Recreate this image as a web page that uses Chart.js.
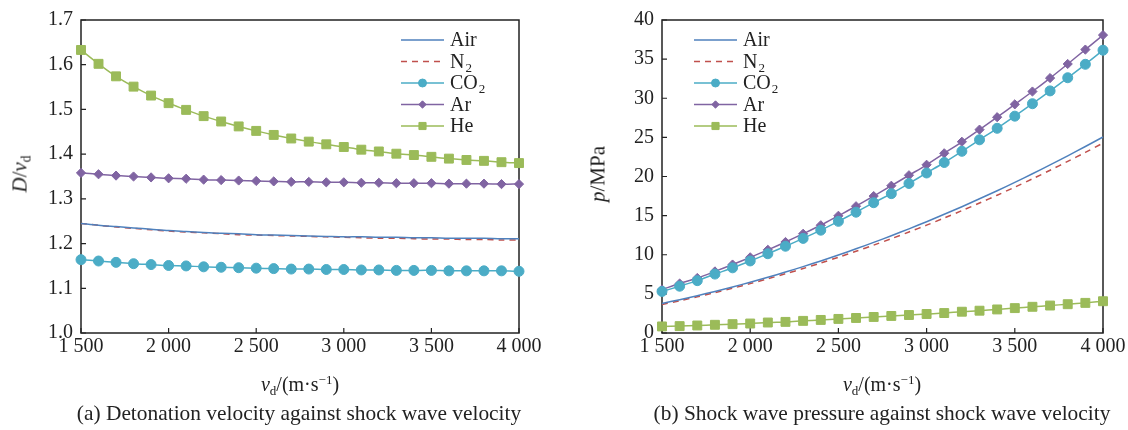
<!DOCTYPE html>
<html>
<head>
<meta charset="utf-8">
<script src="https://cdn.jsdelivr.net/npm/chart.js@4.4.0/dist/chart.umd.min.js"></script>
<style>
  body { margin: 0; background: #fff; font-family: "Liberation Serif", "Times New Roman", serif; color: #222; }
  #wrap { position: relative; width: 1128px; height: 430px; overflow: hidden; }
  .box { position: absolute; top: 0; height: 430px; }
  .lbl { position: absolute; white-space: nowrap; font-size: 20px; line-height: 1; transform: translate(-50%, -50%); }
  .rot { transform: translate(-50%, -50%) rotate(-90deg); font-size: 21px; }
  .cap { font-size: 21.4px; }
  sub, sup { font-size: 0.65em; line-height: 0; }
  sub { vertical-align: -0.3em; }
  sup { vertical-align: 0.55em; }
</style>
</head>
<body>
<div id="wrap">
  <div class="box" style="left:0;width:560px"><canvas id="plotA"></canvas></div>
  <div class="box" style="left:560px;width:568px"><canvas id="plotB"></canvas></div>

  <div class="lbl rot" style="left:20px;top:174px"><i>D</i>/<i>v</i><sub>d</sub></div>
  <div class="lbl rot" style="left:598px;top:174px"><i>p</i>/MPa</div>
  <div class="lbl" style="left:300px;top:384px"><i>v</i><sub>d</sub>/(m·s<sup>−1</sup>)</div>
  <div class="lbl" style="left:882px;top:384px"><i>v</i><sub>d</sub>/(m·s<sup>−1</sup>)</div>
  <div class="lbl cap" style="left:299px;top:414px">(a) Detonation velocity against shock wave velocity</div>
  <div class="lbl cap" style="left:882px;top:414px">(b) Shock wave pressure against shock wave velocity</div>
</div>

<script>
// shock wave velocity, m/s
const vd = [1500, 1600, 1700, 1800, 1900, 2000, 2100, 2200, 2300, 2400, 2500, 2600, 2700,
            2800, 2900, 3000, 3100, 3200, 3300, 3400, 3500, 3600, 3700, 3800, 3900, 4000]

const gasNames = ['Air', 'N2', 'CO2', 'Ar', 'He']
const xTickLabels = ['1 500', '2 000', '2 500', '3 000', '3 500', '4 000']
const yTickLabelsA = ['1.0', '1.1', '1.2', '1.3', '1.4', '1.5', '1.6', '1.7']
const yTickLabelsB = ['0', '5', '10', '15', '20', '25', '30', '35', '40']

// (a) D / vd
const airD = [1.245, 1.241, 1.238, 1.235, 1.232, 1.229, 1.227, 1.225, 1.223, 1.222, 1.220, 1.219, 1.218,
              1.217, 1.216, 1.215, 1.215, 1.214, 1.214, 1.213, 1.213, 1.212, 1.212, 1.212, 1.211, 1.211]
const n2D = [1.245, 1.241, 1.237, 1.234, 1.231, 1.228, 1.226, 1.224, 1.222, 1.220, 1.219, 1.218, 1.217,
             1.216, 1.215, 1.214, 1.213, 1.212, 1.212, 1.211, 1.210, 1.210, 1.209, 1.209, 1.208, 1.208]
const co2D = [1.164, 1.161, 1.158, 1.155, 1.153, 1.151, 1.150, 1.148, 1.147, 1.146, 1.145, 1.144, 1.143,
              1.143, 1.142, 1.142, 1.141, 1.141, 1.140, 1.140, 1.140, 1.139, 1.139, 1.139, 1.139, 1.138]
const arD = [1.358, 1.355, 1.352, 1.350, 1.348, 1.346, 1.345, 1.343, 1.342, 1.341, 1.340, 1.339, 1.338,
             1.338, 1.337, 1.337, 1.336, 1.336, 1.335, 1.335, 1.335, 1.334, 1.334, 1.334, 1.333, 1.333]
const heD = [1.633, 1.602, 1.574, 1.551, 1.531, 1.514, 1.499, 1.485, 1.473, 1.462, 1.452, 1.443, 1.435,
             1.428, 1.422, 1.416, 1.410, 1.406, 1.401, 1.398, 1.394, 1.390, 1.387, 1.385, 1.382, 1.380]

// (b) p, MPa
const airP = [3.78, 4.26, 4.77, 5.31, 5.88, 6.49, 7.12, 7.79, 8.48, 9.21, 9.97, 10.76, 11.58,
              12.43, 13.31, 14.22, 15.17, 16.14, 17.15, 18.18, 19.25, 20.35, 21.48, 22.64, 23.83, 25.05]
const n2P = [3.64, 4.12, 4.63, 5.16, 5.72, 6.31, 6.93, 7.57, 8.24, 8.94, 9.68, 10.44, 11.23,
             12.05, 12.91, 13.78, 14.70, 15.64, 16.61, 17.61, 18.64, 19.70, 20.80, 21.93, 23.08, 24.27]
const co2P = [5.31, 5.98, 6.69, 7.53, 8.33, 9.21, 10.13, 11.09, 12.09, 13.14, 14.27, 15.44, 16.65,
              17.81, 19.11, 20.45, 21.79, 23.22, 24.69, 26.16, 27.71, 29.30, 30.94, 32.62, 34.34, 36.14]
const arP = [5.56, 6.32, 7.03, 7.87, 8.75, 9.67, 10.63, 11.63, 12.68, 13.77, 14.98, 16.20, 17.50,
             18.82, 20.16, 21.50, 22.97, 24.44, 25.99, 27.58, 29.22, 30.86, 32.58, 34.38, 36.22, 38.07]
const heP = [0.84, 0.88, 0.96, 1.05, 1.13, 1.21, 1.34, 1.42, 1.55, 1.67, 1.80, 1.92, 2.05,
             2.18, 2.30, 2.43, 2.55, 2.72, 2.85, 3.01, 3.18, 3.35, 3.51, 3.68, 3.85, 4.06]

const FONT = '"Liberation Serif", "Times New Roman", serif'
const INK = '#222'

const styles = [
    { color: '#4f81bd', dash: [], point: false, radius: 0 },
    { color: '#c0504d', dash: [6, 5], point: false, radius: 0 },
    { color: '#4bacc6', dash: [], point: 'circle', radius: 5 },
    { color: '#8064a2', dash: [], point: 'rectRot', radius: 4.6 },
    { color: '#9bbb59', dash: [], point: 'rect', radius: 6.3 }
]

function makeDatasets (series) {
    return series.map((ys, i) => {
        const s = styles[i]
        return {
            label: gasNames[i],
            data: vd.map((x, j) => ({ x: x, y: ys[j] })),
            borderColor: s.color,
            backgroundColor: s.color,
            borderWidth: 1.5,
            borderDash: s.dash,
            pointStyle: s.point || 'circle',
            pointRadius: s.radius,
            pointBackgroundColor: s.color,
            pointBorderColor: s.color,
            pointBorderWidth: 1,
            tension: 0.3,
            clip: false
        }
    })
}

// box round the plot + inward ticks on left and bottom
const framePlugin = {
    id: 'frame',
    beforeDatasetsDraw (chart) {
        const { ctx, chartArea: a, scales } = chart
        ctx.save()
        ctx.strokeStyle = INK
        ctx.lineWidth = 1.5
        ctx.strokeRect(a.left, a.top, a.right - a.left, a.bottom - a.top)
        ctx.lineWidth = 1.2
        ctx.beginPath()
        scales.x.ticks.forEach(t => {
            const px = scales.x.getPixelForValue(t.value)
            ctx.moveTo(px, a.bottom)
            ctx.lineTo(px, a.bottom - 5)
        })
        scales.y.ticks.forEach(t => {
            const py = scales.y.getPixelForValue(t.value)
            ctx.moveTo(a.left, py)
            ctx.lineTo(a.left + 5, py)
        })
        ctx.stroke()
        ctx.restore()
    }
}

function marker (ctx, style, r, x, y) {
    ctx.beginPath()
    if (style === 'circle') {
        ctx.arc(x, y, r, 0, Math.PI * 2)
    } else if (style === 'rectRot') {
        ctx.moveTo(x, y - r); ctx.lineTo(x + r, y); ctx.lineTo(x, y + r); ctx.lineTo(x - r, y)
        ctx.closePath()
    } else {
        const h = r * Math.SQRT1_2
        ctx.rect(x - h, y - h, 2 * h, 2 * h)
    }
    ctx.fill()
    ctx.stroke()
}

// legend with line samples and subscript digits
const keyPlugin = {
    id: 'key',
    afterDraw (chart, args, opts) {
        const ctx = chart.ctx
        chart.data.datasets.forEach((ds, i) => {
            const y = opts.y + i * opts.step
            const x0 = opts.x, x1 = opts.x + opts.len
            ctx.save()
            ctx.strokeStyle = ds.borderColor
            ctx.fillStyle = ds.borderColor
            ctx.lineWidth = 1.5
            ctx.setLineDash(ds.borderDash)
            ctx.beginPath()
            ctx.moveTo(x0, y)
            ctx.lineTo(x1, y)
            ctx.stroke()
            ctx.setLineDash([])
            if (ds.pointRadius > 0) {
                ctx.lineWidth = 1
                marker(ctx, ds.pointStyle, ds.pointRadius * 0.8, (x0 + x1) / 2, y)
            }
            const m = ds.label.match(/^(.*?)(\d*)$/)
            ctx.fillStyle = INK
            ctx.textBaseline = 'middle'
            ctx.font = '20px ' + FONT
            const tx = x1 + 6
            ctx.fillText(m[1], tx, y + 1)
            if (m[2]) {
                const w = ctx.measureText(m[1]).width
                ctx.font = '13px ' + FONT
                ctx.fillText(m[2], tx + w + 1, y + 7)
            }
            ctx.restore()
        })
    }
}

function makeChart (id, series, yMin, yMax, yStep, yLabels, axisW, padRight, key) {
    return new Chart(document.getElementById(id), {
        type: 'line',
        data: { datasets: makeDatasets(series) },
        plugins: [framePlugin, keyPlugin],
        options: {
            responsive: true,
            maintainAspectRatio: false,
            animation: false,
            layout: { padding: { top: 15, right: padRight, bottom: 0, left: 0 } },
            plugins: {
                legend: { display: false },
                tooltip: { enabled: false },
                key: key
            },
            scales: {
                x: {
                    type: 'linear',
                    min: 1500,
                    max: 4000,
                    grid: { display: false, drawTicks: false },
                    border: { display: false },
                    afterFit: s => { s.height = 97 },
                    ticks: {
                        stepSize: 500,
                        padding: 2,
                        maxRotation: 0,
                        color: INK,
                        font: { family: FONT, size: 20 },
                        callback: (v) => xTickLabels[(v - 1500) / 500]
                    }
                },
                y: {
                    min: yMin,
                    max: yMax,
                    grid: { display: false, drawTicks: false },
                    border: { display: false },
                    afterFit: s => { s.width = axisW },
                    ticks: {
                        stepSize: yStep,
                        padding: 8,
                        color: INK,
                        font: { family: FONT, size: 20 },
                        callback: (v) => yLabels[Math.round((v - yMin) / yStep)]
                    }
                }
            }
        }
    })
}

makeChart('plotA', [airD, n2D, co2D, arD, heD], 1.0, 1.7, 0.1, yTickLabelsA, 81, 41,
    { x: 401, y: 40, step: 21.5, len: 43 })
makeChart('plotB', [airP, n2P, co2P, arP, heP], 0, 40, 5, yTickLabelsB, 102, 25,
    { x: 134, y: 40, step: 21.5, len: 43 })
</script>
</body>
</html>
